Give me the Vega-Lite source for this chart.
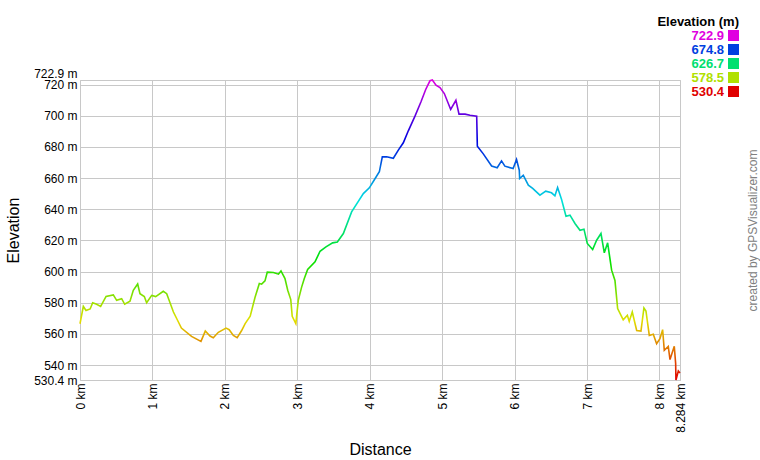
{
  "$schema": "https://vega.github.io/schema/vega-lite/v6.json",
  "width": 600,
  "height": 300,
  "autosize": {"type": "none"},
  "padding": {"left": 80, "top": 80, "right": 80, "bottom": 80},
  "background": "white",
  "data": {
    "values": [
      {"d": 0, "e": 566.5}, {"d": 0.046, "e": 577.6}, {"d": 0.083, "e": 575}, {"d": 0.14, "e": 576},
      {"d": 0.175, "e": 580}, {"d": 0.23, "e": 579}, {"d": 0.285, "e": 577.6}, {"d": 0.36, "e": 584},
      {"d": 0.46, "e": 585}, {"d": 0.506, "e": 581.5}, {"d": 0.575, "e": 582.6}, {"d": 0.617, "e": 579},
      {"d": 0.69, "e": 581}, {"d": 0.736, "e": 588}, {"d": 0.796, "e": 592}, {"d": 0.828, "e": 585.8},
      {"d": 0.888, "e": 584}, {"d": 0.92, "e": 580}, {"d": 0.99, "e": 584.7}, {"d": 1.045, "e": 583.9},
      {"d": 1.15, "e": 587.3}, {"d": 1.197, "e": 585.8}, {"d": 1.29, "e": 574}, {"d": 1.4, "e": 563.7},
      {"d": 1.54, "e": 558.4}, {"d": 1.67, "e": 555.2}, {"d": 1.73, "e": 561.8}, {"d": 1.795, "e": 558.6},
      {"d": 1.84, "e": 557.5}, {"d": 1.91, "e": 561}, {"d": 2.016, "e": 563.7}, {"d": 2.06, "e": 562.7},
      {"d": 2.117, "e": 559}, {"d": 2.17, "e": 557.5}, {"d": 2.23, "e": 562}, {"d": 2.28, "e": 566.6},
      {"d": 2.35, "e": 571.3}, {"d": 2.416, "e": 583.3}, {"d": 2.476, "e": 592.3}, {"d": 2.508, "e": 591.9},
      {"d": 2.554, "e": 594}, {"d": 2.586, "e": 599.6}, {"d": 2.67, "e": 599.4}, {"d": 2.74, "e": 598.3},
      {"d": 2.775, "e": 600.4}, {"d": 2.83, "e": 595.5}, {"d": 2.868, "e": 588}, {"d": 2.91, "e": 582},
      {"d": 2.93, "e": 571.3}, {"d": 2.98, "e": 566.6}, {"d": 3.014, "e": 581.6}, {"d": 3.06, "e": 590},
      {"d": 3.097, "e": 595.5}, {"d": 3.143, "e": 601.3}, {"d": 3.245, "e": 606.2}, {"d": 3.314, "e": 613},
      {"d": 3.396, "e": 615.8}, {"d": 3.488, "e": 618.4}, {"d": 3.553, "e": 619}, {"d": 3.636, "e": 624.4},
      {"d": 3.75, "e": 638.3}, {"d": 3.912, "e": 650}, {"d": 3.995, "e": 653.7}, {"d": 4.06, "e": 658.6},
      {"d": 4.133, "e": 664}, {"d": 4.174, "e": 673.6}, {"d": 4.234, "e": 673.6}, {"d": 4.326, "e": 672.7},
      {"d": 4.395, "e": 677.9}, {"d": 4.464, "e": 682.6}, {"d": 4.533, "e": 690.3}, {"d": 4.625, "e": 699.7},
      {"d": 4.708, "e": 708.9}, {"d": 4.773, "e": 716.8}, {"d": 4.832, "e": 722.4}, {"d": 4.865, "e": 722.9},
      {"d": 4.915, "e": 719.6}, {"d": 4.97, "e": 718}, {"d": 5.03, "e": 714.2}, {"d": 5.118, "e": 704},
      {"d": 5.19, "e": 709.9}, {"d": 5.233, "e": 701}, {"d": 5.316, "e": 701}, {"d": 5.385, "e": 700.3},
      {"d": 5.477, "e": 699.7}, {"d": 5.486, "e": 680.4}, {"d": 5.568, "e": 675.5}, {"d": 5.683, "e": 667.7},
      {"d": 5.76, "e": 666.6}, {"d": 5.82, "e": 671}, {"d": 5.866, "e": 667.6}, {"d": 5.98, "e": 666.1},
      {"d": 6.027, "e": 671.9}, {"d": 6.065, "e": 665}, {"d": 6.07, "e": 659.7}, {"d": 6.12, "e": 661.8},
      {"d": 6.19, "e": 655.4}, {"d": 6.25, "e": 653.3}, {"d": 6.35, "e": 649}, {"d": 6.43, "e": 651.6},
      {"d": 6.51, "e": 650.5}, {"d": 6.557, "e": 648.6}, {"d": 6.594, "e": 653.9}, {"d": 6.649, "e": 646.2},
      {"d": 6.71, "e": 635.5}, {"d": 6.765, "e": 636.2}, {"d": 6.834, "e": 630.8}, {"d": 6.903, "e": 626.5},
      {"d": 6.958, "e": 627.2}, {"d": 7.004, "e": 618}, {"d": 7.078, "e": 614.1}, {"d": 7.133, "e": 620.1},
      {"d": 7.193, "e": 624.4}, {"d": 7.239, "e": 612}, {"d": 7.285, "e": 618.4}, {"d": 7.34, "e": 600.9},
      {"d": 7.386, "e": 594.3}, {"d": 7.423, "e": 576.2}, {"d": 7.5, "e": 569}, {"d": 7.557, "e": 571.9},
      {"d": 7.583, "e": 568}, {"d": 7.625, "e": 574}, {"d": 7.686, "e": 562.2}, {"d": 7.745, "e": 561.8},
      {"d": 7.786, "e": 576.6}, {"d": 7.814, "e": 574.7}, {"d": 7.86, "e": 559}, {"d": 7.915, "e": 559.7},
      {"d": 7.961, "e": 553.7}, {"d": 8.007, "e": 556.9}, {"d": 8.044, "e": 562.7}, {"d": 8.067, "e": 549.5},
      {"d": 8.122, "e": 552}, {"d": 8.146, "e": 543.5}, {"d": 8.205, "e": 552}, {"d": 8.224, "e": 540.9},
      {"d": 8.228, "e": 530.4}, {"d": 8.261, "e": 536.2}, {"d": 8.284, "e": 534.9}
    ]
  },
  "encoding": {
    "x": {
      "field": "d",
      "type": "quantitative",
      "title": "Distance",
      "scale": {"domain": [0, 8.284], "nice": false, "zero": false},
      "axis": {
        "values": [0, 1, 2, 3, 4, 5, 6, 7, 8, 8.284],
        "labelExpr": "datum.value + ' km'",
        "labelAngle": 270,
        "labelAlign": "right",
        "labelBaseline": "middle",
        "labelPadding": 3,
        "labelOverlap": false,
        "grid": true,
        "ticks": false,
        "domain": false,
        "titlePadding": 9
      }
    }
  },
  "layer": [
    {
      "mark": {
        "type": "line",
        "strokeWidth": 1.6,
        "stroke": {
          "gradient": "linear",
          "x1": 0, "y1": 1, "x2": 0, "y2": 0,
          "stops": [
            {"offset": 0, "color": "hsl(0,100%,44%)"},
            {"offset": 0.05, "color": "hsl(15,100%,44%)"},
            {"offset": 0.1, "color": "hsl(30,100%,44%)"},
            {"offset": 0.15, "color": "hsl(45,100%,44%)"},
            {"offset": 0.2, "color": "hsl(60,100%,44%)"},
            {"offset": 0.25, "color": "hsl(75,100%,44%)"},
            {"offset": 0.3, "color": "hsl(90,100%,44%)"},
            {"offset": 0.35, "color": "hsl(105,100%,44%)"},
            {"offset": 0.4, "color": "hsl(120,100%,44%)"},
            {"offset": 0.45, "color": "hsl(135,100%,44%)"},
            {"offset": 0.5, "color": "hsl(150,100%,44%)"},
            {"offset": 0.55, "color": "hsl(165,100%,44%)"},
            {"offset": 0.6, "color": "hsl(180,100%,44%)"},
            {"offset": 0.65, "color": "hsl(195,100%,44%)"},
            {"offset": 0.7, "color": "hsl(210,100%,44%)"},
            {"offset": 0.75, "color": "hsl(225,100%,44%)"},
            {"offset": 0.8, "color": "hsl(240,100%,44%)"},
            {"offset": 0.85, "color": "hsl(255,100%,44%)"},
            {"offset": 0.9, "color": "hsl(270,100%,44%)"},
            {"offset": 0.95, "color": "hsl(285,100%,44%)"},
            {"offset": 1, "color": "hsl(300,100%,44%)"}
          ]
        }
      },
      "encoding": {
        "y": {
          "field": "e",
          "type": "quantitative",
          "title": "Elevation",
          "scale": {"domain": [530.4, 722.9], "nice": false, "zero": false},
          "axis": {
            "values": [530.4, 540, 560, 580, 600, 620, 640, 660, 680, 700, 720, 722.9],
            "labelExpr": "datum.value + ' m'",
            "labelOverlap": false,
            "labelPadding": 3,
            "labelBaseline": {"condition": {"test": "datum.value == 722.9", "value": "bottom"}, "value": "middle"},
            "grid": true,
            "ticks": false,
            "domain": false,
            "titlePadding": 12
          }
        }
      }
    },
    {
      "mark": {"type": "point", "filled": true, "shape": "square", "opacity": 0},
      "encoding": {
        "y": {
          "field": "e",
          "type": "quantitative",
          "title": "created by GPSVisualizer.com",
          "scale": {"domain": [530.4, 722.9], "nice": false, "zero": false},
          "axis": {
            "orient": "right",
            "labels": false,
            "ticks": false,
            "domain": false,
            "grid": false,
            "titleAngle": 270,
            "titleColor": "#808080",
            "titleFontSize": 12,
            "titlePadding": 79
          }
        },
        "color": {
          "field": "e",
          "type": "quantitative",
          "scale": {
            "domain": [530.4, 578.5, 626.7, 674.8, 722.9],
            "range": ["#e00000", "#b0e000", "#00e070", "#0040e0", "#e000e0"],
            "interpolate": "hsl"
          },
          "legend": {
            "type": "symbol",
            "title": "Elevation (m)",
            "values": [722.9, 674.8, 626.7, 578.5, 530.4],
            "format": ".1f",
            "orient": "none",
            "legendX": 577,
            "legendY": -64,
            "symbolType": "square",
            "symbolSize": 121,
            "symbolStrokeWidth": 0,
            "symbolOpacity": 1,
            "labelAlign": "right",
            "labelOffset": -16,
            "labelFontSize": 13,
            "labelFontWeight": "bold",
            "rowPadding": -1,
            "titleAnchor": "end",
            "titleAlign": "right",
            "titleFontSize": 13,
            "titleFontWeight": "bold",
            "titlePadding": 0,
            "encode": {
              "symbols": {"update": {"opacity": {"value": 1}, "fillOpacity": {"value": 1}, "fill": {"scale": "color", "field": "value"}}},
              "labels": {"update": {"fill": {"scale": "color", "field": "value"}}}
            }
          }
        }
      }
    }
  ],
  "resolve": {"axis": {"y": "independent"}},
  "config": {
    "font": "Liberation Sans",
    "view": {"stroke": "#c8c8c8"},
    "axis": {
      "labelFont": "Liberation Sans",
      "labelFontSize": 12,
      "labelColor": "#000000",
      "titleFont": "Liberation Sans",
      "titleFontSize": 16,
      "titleFontWeight": "normal",
      "titleColor": "#000000",
      "gridColor": "#c8c8c8",
      "gridOpacity": 1
    },
    "legend": {
      "labelFont": "Liberation Sans",
      "titleFont": "Liberation Sans",
      "titleColor": "#000000",
      "padding": 0
    }
  }
}
